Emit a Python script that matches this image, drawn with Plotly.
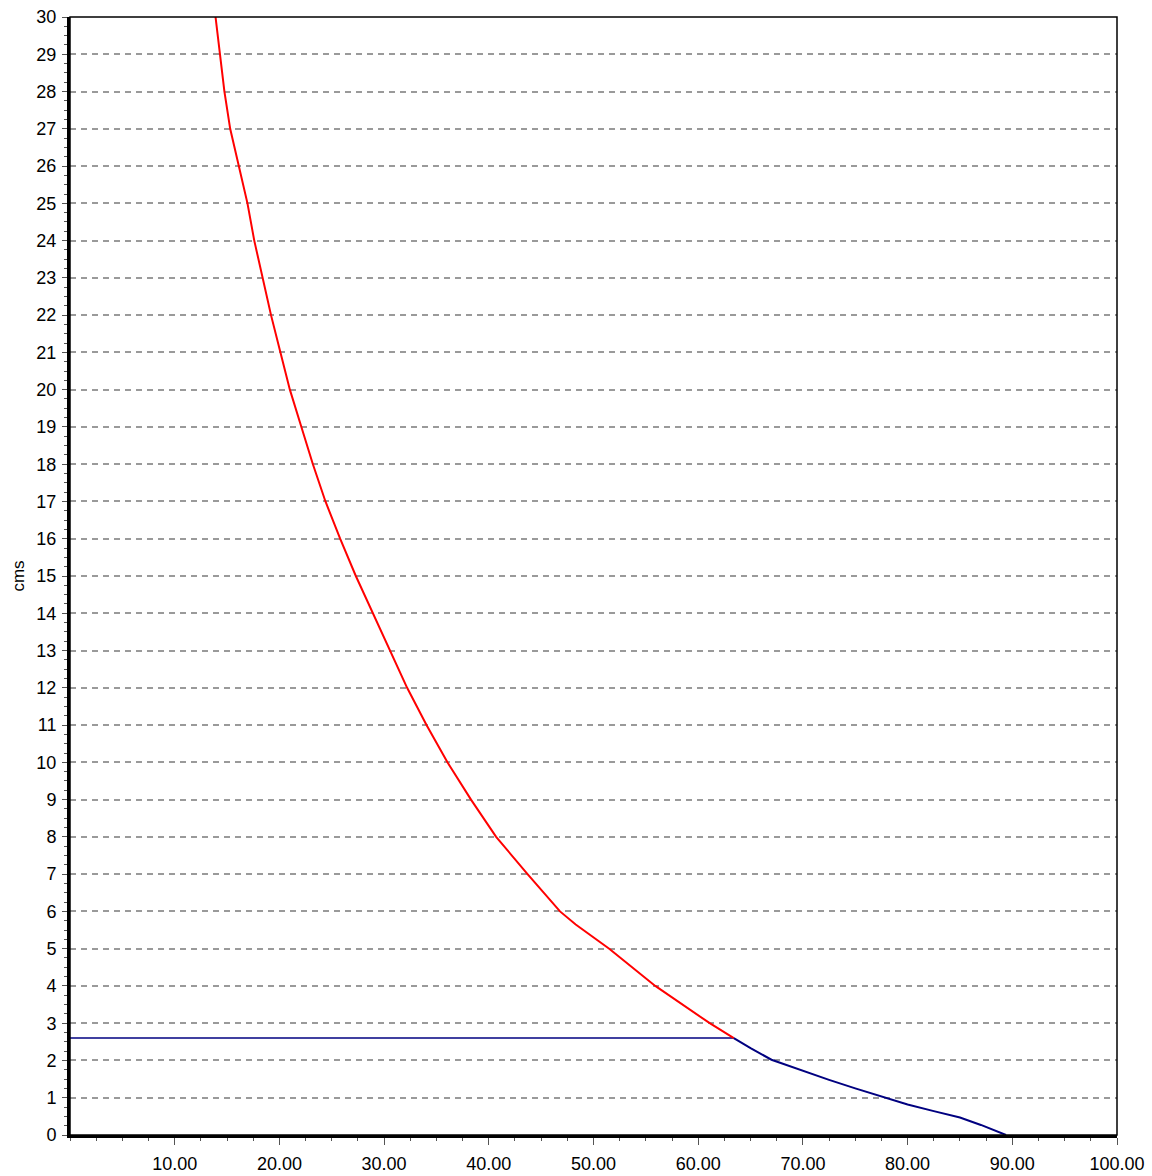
import plotly.graph_objects as go

# Red curve: depth (cms) against percentage
red_x = [13.9, 14.3, 14.75, 15.3, 16.1, 16.95, 17.6, 18.4, 19.2, 20.1, 21.0,
         22.1, 23.2, 24.4, 25.8, 27.3, 28.95, 30.55, 32.2, 34.05, 36.05,
         38.3, 40.7, 43.7, 46.8, 48.3, 51.5, 55.9, 61.1, 63.4]
red_y = [30, 29, 28, 27, 26, 25, 24, 23, 22, 21, 20,
         19, 18, 17, 16, 15, 14, 13, 12, 11, 10,
         9, 8, 7, 6, 5.65, 5, 4, 3, 2.6]

# Blue curve continuing below the crossing level
blue_x = [63.4, 65.0, 67.0, 70.0, 72.5, 75.0, 77.8, 80.0, 82.5, 85.0, 87.0, 88.5, 89.4]
blue_y = [2.6, 2.33, 2.02, 1.72, 1.48, 1.25, 1.0, 0.82, 0.64, 0.47, 0.27, 0.10, 0.0]

# Horizontal reference level
level_x = [0, 63.4]
level_y = [2.6, 2.6]

x_ticks = [10, 20, 30, 40, 50, 60, 70, 80, 90, 100]
y_ticks = list(range(0, 31))

fig = go.Figure()
fig.add_trace(go.Scatter(x=level_x, y=level_y, mode="lines",
                         line=dict(color="#000080", width=1.5), hoverinfo="skip"))
fig.add_trace(go.Scatter(x=red_x, y=red_y, mode="lines",
                         line=dict(color="#ff0000", width=2)))
fig.add_trace(go.Scatter(x=blue_x, y=blue_y, mode="lines",
                         line=dict(color="#000080", width=2)))

font = dict(family="Liberation Sans, Arial, sans-serif", size=18, color="#000000")

fig.update_layout(
    width=1152, height=1176,
    margin=dict(l=70, r=35, t=17, b=41),
    paper_bgcolor="white", plot_bgcolor="white",
    showlegend=False,
    font=font,
    xaxis=dict(
        range=[0, 100], showgrid=False, zeroline=False, automargin=False,
        showline=True, linecolor="black", linewidth=3,
        tickvals=x_ticks, ticktext=[f"{v:.2f}" for v in x_ticks],
        ticks="outside", ticklen=7, tickwidth=1, tickcolor="#555555",
        minor=dict(ticks="outside", dtick=2.5, tick0=0, ticklen=3,
                   tickcolor="#555555", showgrid=False),
        tickfont=font, ticklabelstandoff=3,
    ),
    yaxis=dict(
        range=[0, 30], zeroline=False, automargin=False,
        showline=True, linecolor="black", linewidth=3,
        tickvals=y_ticks, ticktext=[str(v) for v in y_ticks],
        ticks="outside", ticklen=5, tickwidth=1, tickcolor="#555555",
        minor=dict(ticks="outside", dtick=0.25, tick0=0, ticklen=3,
                   tickcolor="#555555", showgrid=False),
        showgrid=True, gridcolor="#9a9a9a", gridwidth=2, griddash="6px,5px",
        tickfont=font, ticklabelstandoff=2,
        title=dict(text="cms", font=dict(family=font["family"], size=17, color="#000000"),
                   standoff=8),
    ),
    shapes=[dict(type="rect", xref="paper", yref="paper", x0=0, y0=0, x1=1, y1=1,
                 line=dict(color="black", width=1.5), fillcolor="rgba(0,0,0,0)",
                 layer="above")],
)

fig.write_html("out.html")
